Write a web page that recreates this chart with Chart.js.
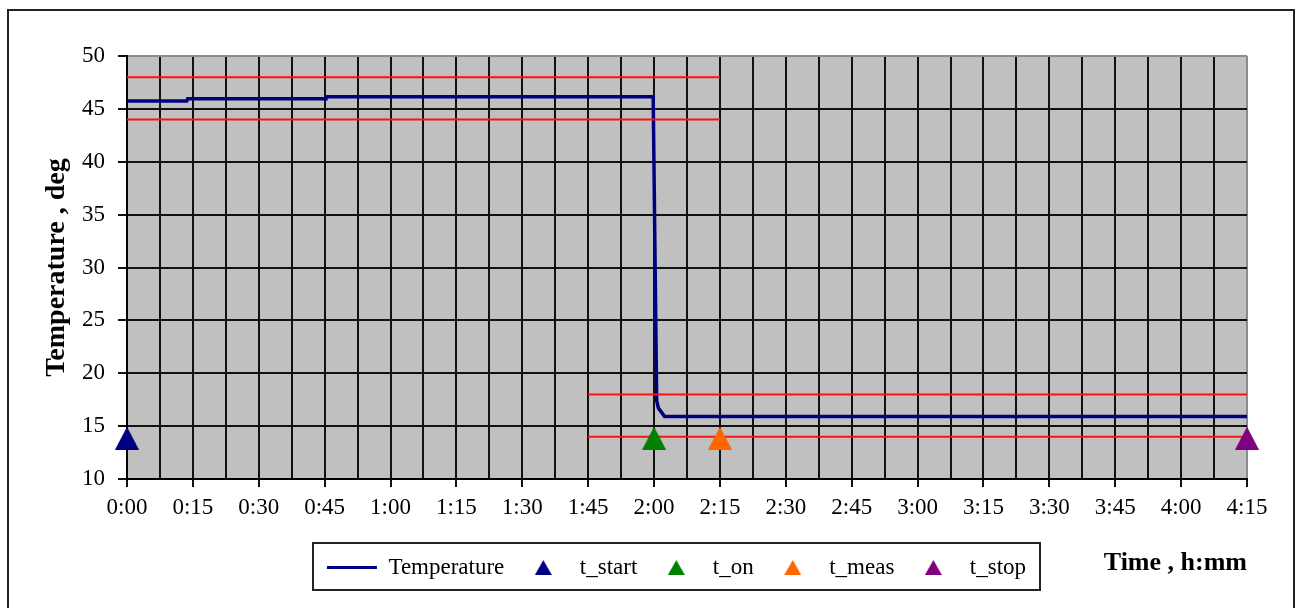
<!DOCTYPE html>
<html>
<head>
<meta charset="utf-8">
<title>Temperature</title>
<script src="https://cdn.jsdelivr.net/npm/chart.js@4/dist/chart.umd.min.js"></script>
<style>
    body { margin: 0; background: #ffffff; }
    canvas { display: block; }
</style>
</head>
<body>
<canvas id="chart" width="1302" height="608"></canvas>
<script>
// time in minutes from start
var timeMinutes = [0, 13.6, 13.8, 45.1, 45.3, 119.8, 120.6, 121.0, 122.4, 255];
var temperature = [45.75, 45.75, 45.95, 45.95, 46.15, 46.15, 17.4, 16.7, 15.9, 15.9];

var tickLabels = ['0:00', '0:15', '0:30', '0:45', '1:00', '1:15', '1:30', '1:45', '2:00',
    '2:15', '2:30', '2:45', '3:00', '3:15', '3:30', '3:45', '4:00', '4:15'];

// event markers
var markerNames = ['t_start', 't_on', 't_meas', 't_stop'];
var markerTimes = [0, 120, 135, 255];
var markerValues = [14, 14, 14, 14];
var markerColors = ['#000080', '#008000', '#ff6600', '#800080'];

// limit bands: start/end time and the two limits
var upperBandTimes = [0, 135];
var upperBandValues = [48, 44];
var lowerBandTimes = [105, 255];
var lowerBandValues = [18, 14];

var serif = '"Liberation Serif", "Times New Roman", serif';

// triangle image, drawn `drop` px lower than the centre of the canvas
function triangle(color, w, h, drop) {
    var c = document.createElement('canvas');
    c.width = w;
    c.height = h + 2 * drop;
    var ctx = c.getContext('2d');
    ctx.fillStyle = color;
    ctx.beginPath();
    ctx.moveTo(w / 2, 2 * drop);
    ctx.lineTo(w, h + 2 * drop);
    ctx.lineTo(0, h + 2 * drop);
    ctx.closePath();
    ctx.fill();
    return c;
}

function toPoints(xs, ys) {
    return xs.map(function (x, i) {
        return {x: x, y: ys[i]};
    });
}

var datasets = [{
    label: 'Temperature',
    data: toPoints(timeMinutes, temperature),
    borderColor: '#000080',
    borderWidth: 3.5,
    pointRadius: 0,
    order: 3
}];

markerNames.forEach(function (name, i) {
    datasets.push({
        label: name,
        data: [{x: markerTimes[i], y: markerValues[i]}],
        showLine: false,
        clip: false,
        pointStyle: triangle(markerColors[i], 24, 23, 1.5),
        legendStyle: triangle(markerColors[i], 17, 15, 0),
        pointRadius: 12,
        borderColor: markerColors[i],
        backgroundColor: markerColors[i],
        order: 1
    });
});

upperBandValues.forEach(function (v) {
    datasets.push({
        label: 'limit',
        data: toPoints(upperBandTimes, [v, v]),
        borderColor: '#ff1010',
        borderWidth: 2,
        pointRadius: 0,
        order: 2
    });
});
lowerBandValues.forEach(function (v) {
    datasets.push({
        label: 'limit',
        data: toPoints(lowerBandTimes, [v, v]),
        borderColor: '#ff1010',
        borderWidth: 2,
        pointRadius: 0,
        order: 2
    });
});

var framePlugin = {
    id: 'frame',
    beforeDraw: function (chart) {
        var ctx = chart.ctx;
        var area = chart.chartArea;
        ctx.save();
        ctx.fillStyle = '#ffffff';
        ctx.fillRect(0, 0, chart.width, chart.height);
        ctx.strokeStyle = '#222222';
        ctx.lineWidth = 2;
        ctx.strokeRect(8, 10, 1286, 640);
        ctx.fillStyle = '#c0c0c0';
        ctx.fillRect(area.left, area.top, area.right - area.left, area.bottom - area.top);
        ctx.restore();
    },
    afterLayout: function (chart) {
        // legend sits in its own box under the plot, centred at the same place
        var legend = chart.legend;
        legend.left = 263;
        legend.right = 1090;
        legend.top = 542;
        legend.bottom = 542 + legend.height;
        legend.width = legend.right - legend.left;
    },
    afterDraw: function (chart) {
        var ctx = chart.ctx;
        ctx.save();
        ctx.strokeStyle = '#222222';
        ctx.lineWidth = 2;
        ctx.strokeRect(313, 543, 727, 47);
        ctx.restore();
    }
};

new Chart(document.getElementById('chart').getContext('2d'), {
    type: 'line',
    data: {datasets: datasets},
    plugins: [framePlugin],
    options: {
        responsive: false,
        animation: false,
        devicePixelRatio: 1,
        layout: {padding: {top: 56, right: 55, bottom: 0, left: 0}},
        elements: {line: {tension: 0}},
        plugins: {
            tooltip: {enabled: false},
            legend: {
                position: 'bottom',
                labels: {
                    usePointStyle: true,
                    pointStyleWidth: 50,
                    boxHeight: 13,
                    padding: 14,
                    color: '#000000',
                    font: {family: serif, size: 23},
                    generateLabels: function (chart) {
                        var items = [];
                        chart.data.datasets.forEach(function (ds, i) {
                            if (ds.label === 'limit') {
                                return;
                            }
                            items.push({
                                text: ds.label,
                                datasetIndex: i,
                                pointStyle: ds.legendStyle || 'line',
                                strokeStyle: ds.borderColor,
                                fillStyle: ds.borderColor,
                                lineWidth: 3,
                                fontColor: '#000000'
                            });
                        });
                        return items;
                    }
                }
            }
        },
        scales: {
            x: {
                type: 'linear',
                min: 0,
                max: 255,
                afterFit: function (scale) {
                    scale.height = 82;
                },
                border: {color: '#000000', width: 2},
                grid: {
                    color: function (ctx) {
                        return ctx.tick && ctx.tick.value === 255 ? '#8c8c8c' : '#111111';
                    },
                    tickColor: function (ctx) {
                        return ctx.tick && ctx.tick.value % 15 === 0 ? '#111111' : 'rgba(0,0,0,0)';
                    },
                    lineWidth: 2,
                    tickLength: 8
                },
                ticks: {
                    stepSize: 7.5,
                    autoSkip: false,
                    maxRotation: 0,
                    padding: 7,
                    color: '#000000',
                    font: {family: serif, size: 23},
                    callback: function (value) {
                        return value % 15 === 0 ? tickLabels[value / 15] : '';
                    }
                },
                title: {
                    display: true,
                    text: 'Time , h:mm',
                    align: 'end',
                    color: '#000000',
                    font: {family: serif, size: 26, weight: 'bold'},
                    padding: {top: 0, bottom: -18}
                }
            },
            y: {
                min: 10,
                max: 50,
                afterFit: function (scale) {
                    scale.width = 127;
                },
                border: {color: '#000000', width: 2},
                grid: {
                    color: function (ctx) {
                        return ctx.tick && ctx.tick.value === 50 ? '#8c8c8c' : '#111111';
                    },
                    tickColor: '#111111',
                    lineWidth: 2,
                    tickLength: 9
                },
                ticks: {
                    stepSize: 5,
                    padding: 13,
                    color: '#000000',
                    font: {family: serif, size: 23}
                },
                title: {
                    display: true,
                    text: 'Temperature , deg',
                    color: '#000000',
                    font: {family: serif, size: 28, weight: 'bold'},
                    padding: {top: 40, bottom: 0}
                }
            }
        }
    }
});
</script>
</body>
</html>
